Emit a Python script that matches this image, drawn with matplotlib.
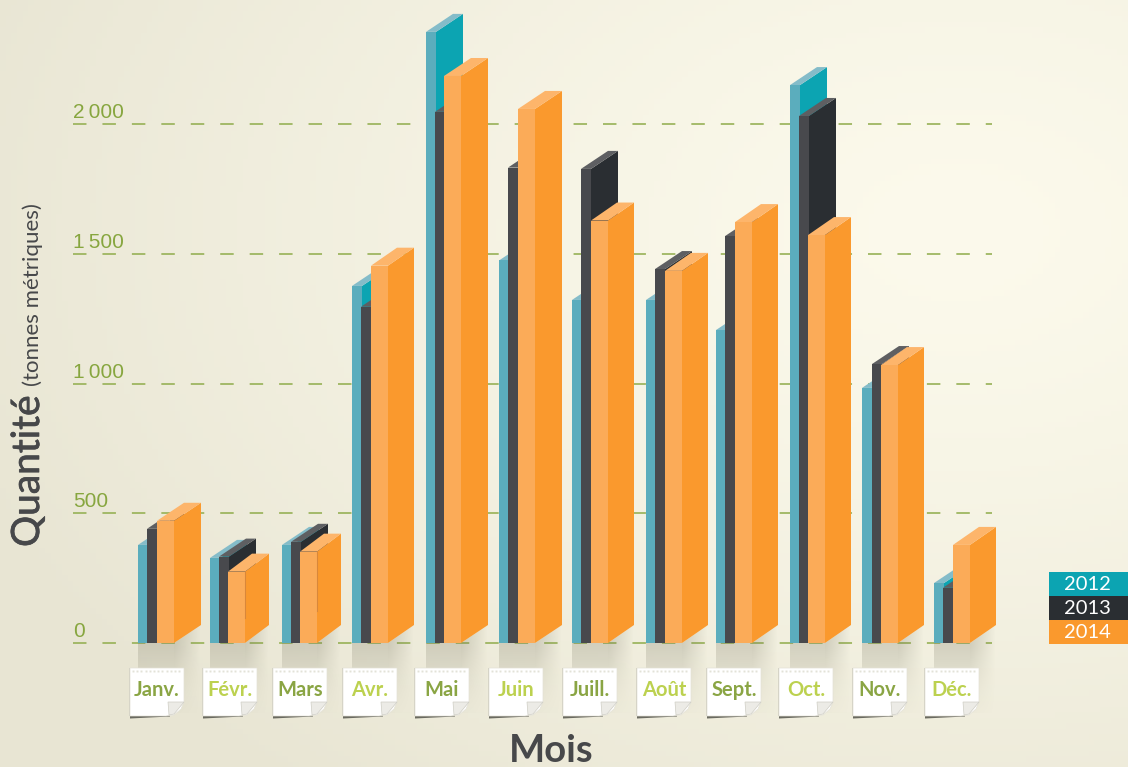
import numpy as np
import matplotlib
matplotlib.use("Agg")
import matplotlib.pyplot as plt
import matplotlib.patheffects as pe
from matplotlib.patches import Polygon, Rectangle

months = ["Janv.", "Févr.", "Mars", "Avr.", "Mai", "Juin", "Juill.", "Août", "Sept.", "Oct.", "Nov.", "Déc."]
years = ["2012", "2013", "2014"]
v2012 = [378, 328, 378, 1376, 2355, 1474, 1322, 1322, 1206, 2150, 983, 231]
v2013 = [440, 333, 390, 1296, 2047, 1832, 1827, 1441, 1568, 2031, 1075, 213]
v2014 = [471, 275, 352, 1454, 2185, 2058, 1628, 1434, 1622, 1572, 1071, 378]
y_ticks = [0, 500, 1000, 1500, 2000]
y_labels = ["0", "500", "1\u2009000", "1\u2009500", "2\u2009000"]

W, H = 1128, 767
PX = 2000 / 519  # unites par pixel
y_base = 643

# front, side, top colours per serie
colors = {
    "2012": ("#5badbd", "#0ca4b2", "#84bcc9"),
    "2013": ("#48494d", "#2a2e32", "#5e5f62"),
    "2014": ("#fbab58", "#fa992d", "#fdb56b"),
}
# left edge of each serie in each group
left_2012 = [138, 210, 282, 352, 426, 499, 572, 646, 716, 790, 862, 934]
left_2013 = [147, 219, 291, 361, 435, 508, 581, 655, 725, 799, 872, 943]
left_2014 = [157, 228, 300, 371, 444, 518, 591, 665, 735, 808, 881, 953]
depth_2014 = [27, 24, 24, 26, 27, 27, 26, 26, 26, 26, 26, 26]
note_left = [130, 203, 273, 343, 415, 489, 563, 637, 707, 779, 853, 925]
dx, dy = 27, 18 * PX

plt.rcParams["font.family"] = ["Lato", "DejaVu Sans"]
plt.rcParams["lines.scale_dashes"] = False
fig = plt.figure(figsize=(W / 100, H / 100), dpi=100)
ax = fig.add_axes([0, 0, 1, 1])
ax.set_xlim(0, W)
ax.set_ylim((y_base - H) * PX, y_base * PX)
ax.axis("off")

# background
xx, yy = np.meshgrid(np.linspace(0, 1, 200), np.linspace(0, 1, 140))
d = np.clip(np.hypot((xx - 0.85) / 0.95, (yy - 0.3) / 0.95), 0, 1)
c0 = np.array([252, 250, 236]) / 255
c1 = np.array([232, 229, 211]) / 255
bg = c0 + (c1 - c0)[None, None, :] * (d[..., None] ** 1.3)
ax.imshow(bg, extent=[0, W, (y_base - H) * PX, y_base * PX], aspect="auto", zorder=0)

# grid
for t, lab in zip(y_ticks, y_labels):
    ax.plot([73, 992], [t, t], color="#97b156", lw=1.2, dashes=(9.7, 11.5), zorder=1, dash_capstyle="butt")
    ax.text(73, t + 6 * PX, lab, color="#87a63f", fontsize=15, family=["Liberation Sans", "DejaVu Sans"],
            ha="left", va="baseline", zorder=2)


def gradient(extent, clip, alpha_img, color=(0.45, 0.44, 0.36)):
    img = np.zeros(alpha_img.shape + (4,))
    img[..., :3] = color
    img[..., 3] = alpha_img
    im = ax.imshow(img, extent=extent, aspect="auto", zorder=2, interpolation="bilinear")
    patch = Polygon(clip, transform=ax.transData, fc="none", ec="none")
    ax.add_patch(patch)
    im.set_clip_path(patch)


# floor reflection and side shadow, drawn from each group
for i in range(12):
    x0 = left_2012[i]
    x1 = left_2014[i] + 17
    dp = depth_2014[i]
    fade = np.linspace(0.24, 0.0, 40)[:, None] * np.ones((40, 2))
    gradient([x0, x1, -70 * PX, 0], [(x0, 0), (x1, 0), (x1, -70 * PX), (x0, -70 * PX)], fade)
    sh = np.linspace(0, 1, 40)
    ux, uy = np.meshgrid(sh, sh)
    # alpha fades to the right and downwards
    al = 0.3 * (1 - ux) * (0.35 + 0.65 * (1 - uy)) * np.clip(1.25 - uy, 0, 1)
    gradient([x1, x1 + dp, -70 * PX, dy], [(x1, 0), (x1 + dp, dy), (x1 + dp, -70 * PX), (x1, -70 * PX)], al)


def bar3d(x, w, v, col, z, depth=dx):
    front, side, top = col
    ax.add_patch(Polygon([(x + w, 0), (x + w + depth, dy), (x + w + depth, v + dy), (x + w, v)],
                         fc=side, ec="none", zorder=z))
    ax.add_patch(Polygon([(x, v), (x + depth, v + dy), (x + w + depth, v + dy), (x + w, v)],
                         fc=top, ec="none", zorder=z))
    ax.add_patch(Rectangle((x, 0), w, v, fc=front, ec="none", zorder=z))


for i in range(12):
    bar3d(left_2012[i], 10, v2012[i], colors["2012"], 3 + 0.01 * i)
    bar3d(left_2013[i], 10, v2013[i], colors["2013"], 4 + 0.01 * i)
    bar3d(left_2014[i], 17, v2014[i], colors["2014"], 5 + 0.01 * i, depth_2014[i])

# darker edge on the low 2014 bars
for i in (1, 2):
    xe = left_2014[i] + 17
    ax.plot([xe, xe], [v2014[i], v2014[i] * 0.35], color="#d9873a", lw=0.8, zorder=5.5)

# month notes
for i, m in enumerate(months):
    x = note_left[i]
    top = (y_base - 668) * PX
    bot = (y_base - 716) * PX
    ax.add_patch(Polygon([(x, bot - 2.5 * PX), (x + 40, bot - 0.5 * PX), (x + 40, bot + 3 * PX), (x, bot + 3 * PX)],
                         fc="#6a6a60", ec="none", zorder=6))
    ax.add_patch(Rectangle((x - 1, bot), 2, top - bot, fc="#cfcdbf", ec="none", zorder=6))
    ax.add_patch(Polygon([(x, top), (x + 54, top), (x + 54, (y_base - 702) * PX),
                          (x + 51, (y_base - 709) * PX), (x + 44, (y_base - 715) * PX), (x + 36, bot), (x, bot)],
                         fc="white", ec="#e4e2d6", lw=0.5, zorder=7))
    ax.add_patch(Polygon([(x + 38, (y_base - 702) * PX), (x + 54, (y_base - 702) * PX),
                          (x + 44, (y_base - 714) * PX), (x + 39, bot + 1 * PX)],
                         fc="#ecebe6", ec="#cfcec5", lw=0.5, zorder=8))
    ax.plot(np.arange(x + 3, x + 53, 4.2), np.full(12, (y_base - 670.5) * PX), ls="none", marker="s",
            ms=1.4, color="#e3e2d8", mec="none", zorder=8)
    col = "#8aa544" if i % 2 == 0 else "#bcd14f"
    ax.text(x + 27, (y_base - 696) * PX, m, color=col, fontsize=14.5, fontweight="bold",
            ha="center", va="baseline", zorder=9)

# axis titles
ax.text(551, (y_base - 751) * PX, "Mois", color="#47484a", fontsize=27.5, fontweight="bold",
        ha="center", va="center", zorder=9)
ax.text(28, (y_base - 547) * PX, "Quantité", color="#47484a", fontsize=28, rotation=90,
        ha="center", va="bottom", zorder=9,
        path_effects=[pe.withStroke(linewidth=0.5, foreground="#47484a")])
ax.text(33, (y_base - 386) * PX, "(tonnes métriques)", color="#47484a", fontsize=16, rotation=90,
        ha="center", va="bottom", zorder=9)

# legend
for k, y in enumerate(years):
    ybot = (y_base - (596 + 24 * k)) * PX
    ax.add_patch(Rectangle((1049, ybot), 79, 24 * PX, fc=colors[y][1], ec="none", zorder=9))
    ax.text(1064, ybot + 12 * PX, y, color="white", fontsize=14.5, ha="left", va="center", zorder=10)

fig.savefig("out.png", dpi=100)
